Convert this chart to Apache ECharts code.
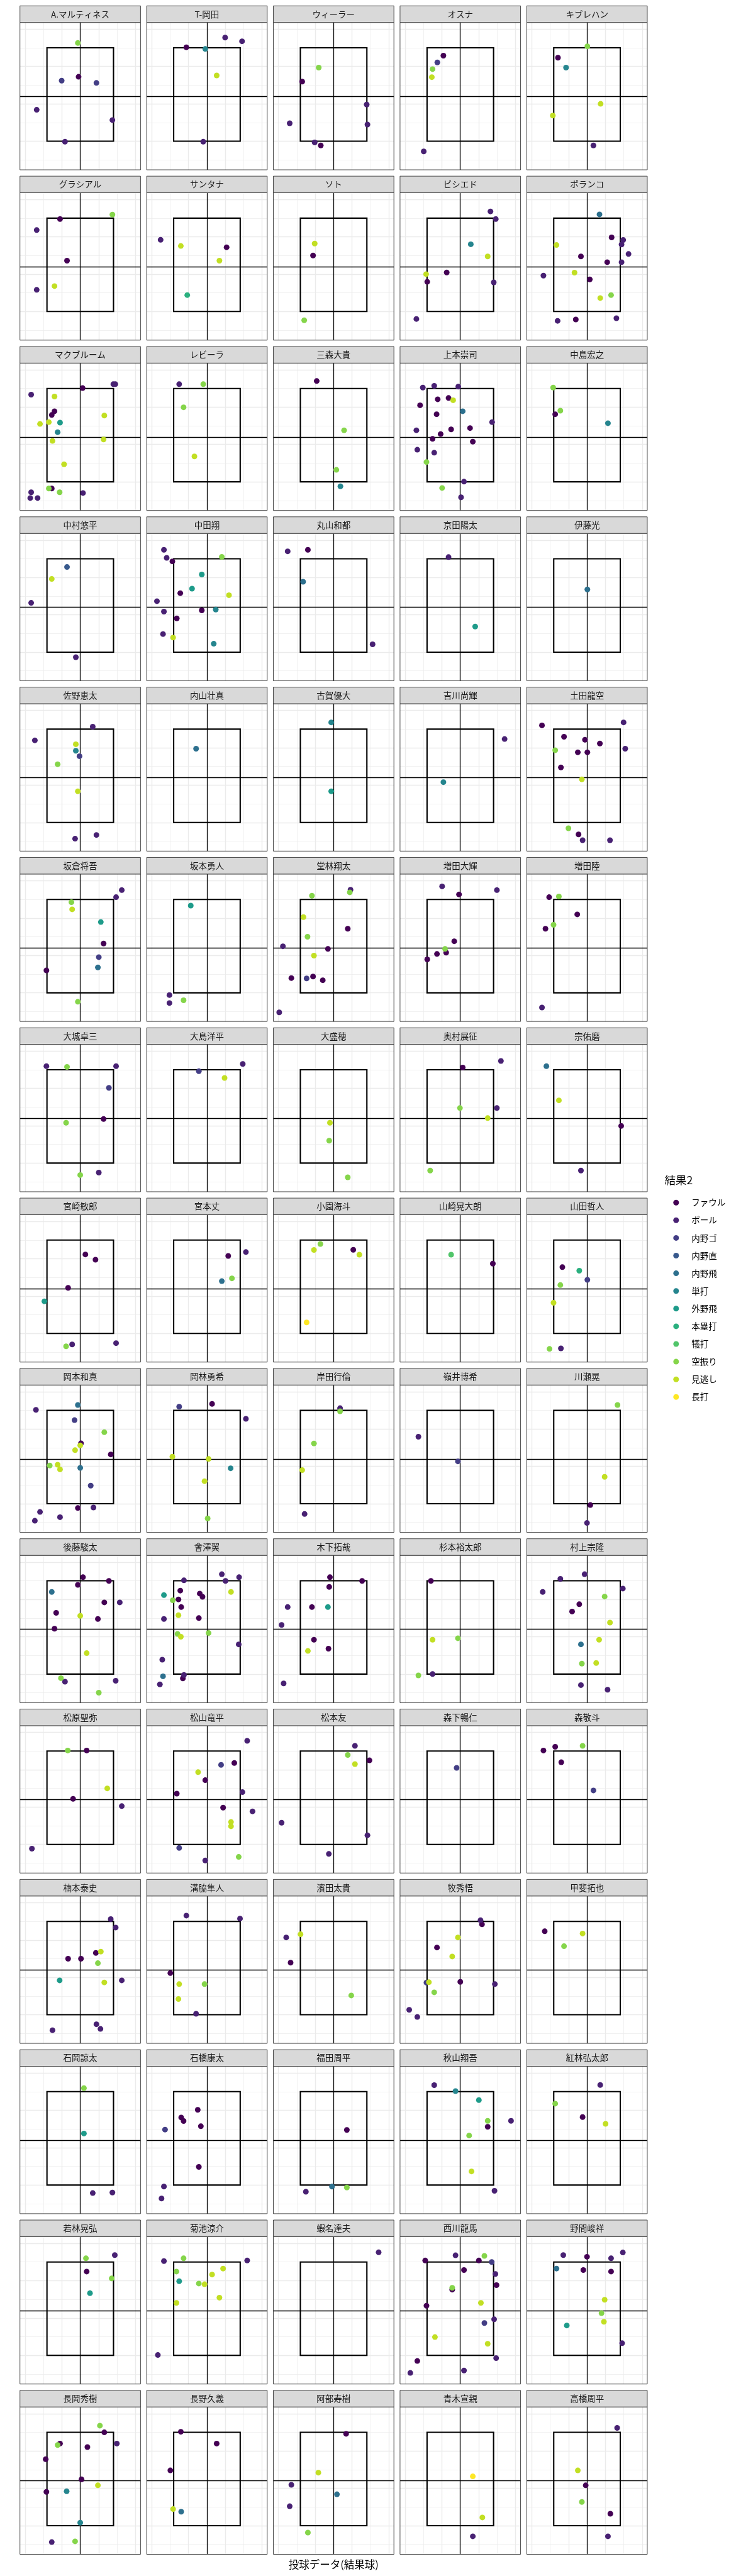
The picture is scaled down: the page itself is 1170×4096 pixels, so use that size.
<!DOCTYPE html>
<html><head><meta charset="utf-8">
<script src="https://cdn.jsdelivr.net/npm/echarts@6/dist/echarts.min.js"></script>
<style>html,body{margin:0;padding:0;background:#fff}#c{width:1170px;height:4096px}</style>
</head><body><div id="c"></div>
<script>
// ---------- data ----------
const players = ["A.マルティネス","T-岡田","ウィーラー","オスナ","キブレハン",
"グラシアル","サンタナ","ソト","ビシエド","ポランコ",
"マクブルーム","レビーラ","三森大貴","上本崇司","中島宏之",
"中村悠平","中田翔","丸山和都","京田陽太","伊藤光",
"佐野恵太","内山壮真","古賀優大","吉川尚輝","土田龍空",
"坂倉将吾","坂本勇人","堂林翔太","増田大輝","増田陸",
"大城卓三","大島洋平","大盛穂","奥村展征","宗佑磨",
"宮崎敏郎","宮本丈","小園海斗","山崎晃大朗","山田哲人",
"岡本和真","岡林勇希","岸田行倫","嶺井博希","川瀬晃",
"後藤駿太","會澤翼","木下拓哉","杉本裕太郎","村上宗隆",
"松原聖弥","松山竜平","松本友","森下暢仁","森敬斗",
"楠本泰史","溝脇隼人","濱田太貴","牧秀悟","甲斐拓也",
"石岡諒太","石橋康太","福田周平","秋山翔吾","紅林弘太郎",
"若林晃弘","菊池涼介","蝦名達夫","西川龍馬","野間峻祥",
"長岡秀樹","長野久義","阿部寿樹","青木宣親","高橋周平"];
const results = ["ファウル","ボール","内野ゴ","内野直","内野飛","単打","外野飛","本塁打","犠打","空振り","見逃し","長打"];
const palette = ["#440154","#482173","#433E85","#38598C","#2D708E","#25858E","#1E9B8A","#2BB07F","#51C56A","#85D54A","#C2DF23","#FDE725"];
// [x, y, result index] per player, in the order of players
const pitches = [
[[-0.13,6.26,9],[-1.01,4.24,2],[-0.09,4.45,0],[0.88,4.12,2],[-2.37,2.68,1],[1.75,2.13,1],[-0.83,0.97,1]],
[[0.99,6.55,1],[1.91,6.35,1],[-1.12,6.03,0],[-0.09,5.94,5],[0.53,4.52,10],[-0.2,0.97,1]],
[[-0.81,4.94,9],[-1.71,4.19,0],[1.80,2.96,1],[-2.39,1.96,1],[1.84,1.89,1],[-1.03,0.93,1],[-0.70,0.77,0]],
[[-0.92,5.58,0],[-1.25,5.22,2],[-1.51,4.86,9],[-1.55,4.43,10],[-1.99,0.45,1]],
[[0.02,6.08,9],[-1.58,5.47,0],[-1.14,4.94,5],[0.74,3.0,10],[-1.86,2.37,10],[0.35,0.77,1]],
[[1.75,6.19,9],[-1.10,5.95,0],[-2.37,5.36,1],[-0.72,3.72,0],[-1.40,2.36,10],[-2.37,2.16,1]],
[[-2.52,4.84,1],[-1.42,4.51,10],[1.07,4.44,0],[0.68,3.72,10],[-1.07,1.88,7]],
[[-1.03,4.64,10],[-1.12,4.0,0],[-1.60,0.53,9]],
[[1.64,6.36,1],[1.93,5.95,1],[0.57,4.6,5],[1.49,3.95,10],[-1.86,3.0,10],[-0.74,3.09,0],[-1.80,2.59,0],[1.82,2.56,1],[-2.39,0.6,1]],
[[0.68,6.2,4],[1.34,4.97,0],[1.97,4.83,1],[1.88,4.59,1],[-1.66,4.56,10],[2.26,4.08,1],[-0.33,3.95,0],[1.10,3.64,0],[1.88,3.64,1],[-2.37,2.92,1],[-0.68,3.08,10],[0.15,2.72,0],[1.31,1.88,9],[0.72,1.72,10],[-1.60,0.5,1],[-0.61,0.57,0],[1.60,0.64,1]],
[[1.80,6.23,1],[1.91,6.23,1],[0.13,6.02,0],[-2.67,5.67,1],[-1.40,5.57,10],[-1.40,4.78,0],[-1.55,4.58,0],[1.31,4.55,10],[-2.19,4.1,10],[-1.71,4.2,10],[-1.10,4.17,6],[-1.23,3.66,5],[-1.51,3.19,10],[1.27,3.27,10],[-0.88,1.94,10],[-1.71,0.64,9],[-1.55,0.64,0],[-1.12,0.44,9],[-2.67,0.44,1],[0.15,0.4,1],[-2.72,0.13,1],[-2.32,0.13,1]],
[[-1.51,6.23,1],[-0.2,6.23,9],[-1.27,4.99,9],[-0.68,2.36,10]],
[[-0.92,6.40,0],[0.57,3.76,9],[0.15,1.64,9],[0.37,0.76,5]],
[[-2.04,6.05,1],[-1.42,6.14,1],[-0.11,6.1,1],[-1.23,5.42,0],[-0.64,5.49,0],[-0.39,5.37,10],[-2.19,5.10,0],[0.13,4.78,4],[-1.29,4.62,0],[1.73,4.2,1],[-2.39,3.76,1],[-0.5,3.81,0],[0.53,3.88,0],[-1.07,3.56,0],[-1.51,3.3,0],[0.68,3.15,0],[-2.34,2.72,1],[-1.42,2.56,1],[-1.84,2.06,9],[0.2,1.01,1],[-0.99,0.67,9],[0.04,0.17,1]],
[[-1.84,6.05,9],[-1.45,4.81,9],[-1.73,4.62,0],[1.14,4.14,5]],
[[-0.72,5.56,3],[-1.55,4.92,10],[-2.67,3.64,1],[-0.24,0.73,1]],
[[-2.34,6.48,1],[-2.19,6.05,1],[-1.88,5.86,0],[0.81,6.1,9],[-0.28,5.16,6],[-0.81,4.4,6],[-1.45,4.16,0],[1.20,4.05,10],[-2.72,3.73,1],[-2.34,3.17,1],[-0.28,3.24,0],[0.48,3.28,5],[-1.64,2.81,0],[-2.39,1.97,1],[-1.84,1.78,10],[0.37,1.45,5]],
[[-2.5,6.40,1],[-1.40,6.48,0],[-1.66,4.77,4],[2.12,1.42,1]],
[[-0.64,6.09,1],[0.81,2.37,6]],
[[0.02,4.36,4]],
[[0.68,6.13,1],[-2.47,5.4,1],[-0.24,5.19,10],[-0.24,4.84,5],[-0.04,4.55,2],[-1.23,4.12,9],[-0.13,2.67,10],[0.88,0.33,1],[-0.28,0.13,1]],
[[-0.59,4.95,4]],
[[-0.13,6.36,5],[-0.13,2.67,6]],
[[2.41,5.47,1],[-0.92,3.16,5]],
[[-2.45,6.2,0],[1.99,6.36,1],[-1.25,5.59,0],[-0.11,5.43,0],[0.70,5.23,0],[2.08,4.95,1],[-1.73,4.87,9],[-0.5,4.76,0],[0.02,4.76,0],[-1.42,3.95,0],[-0.28,3.31,10],[-1.01,0.69,9],[-0.46,0.36,0],[-0.24,0.05,1],[1.25,0.05,1]],
[[2.26,6.5,1],[1.95,6.12,1],[-0.48,5.85,9],[-0.44,5.47,10],[1.12,4.79,6],[1.27,3.64,0],[1.01,2.91,2],[0.96,2.36,4],[-1.84,2.2,0],[-0.13,0.52,9]],
[[-0.88,5.67,6],[-2.04,0.88,1],[-2.04,0.45,1],[-1.27,0.6,9]],
[[-1.18,6.2,9],[0.88,6.38,9],[0.92,6.52,1],[-1.64,5.05,10],[0.77,4.43,0],[-1.42,4.0,9],[-2.76,3.49,1],[-0.31,3.35,0],[-1.07,2.99,10],[-2.30,1.79,0],[-1.47,1.77,2],[-1.12,1.87,0],[-0.59,1.67,0],[-2.96,-0.05,1]],
[[-0.99,6.70,1],[1.99,6.5,1],[-0.07,6.27,0],[-0.33,3.76,0],[-0.83,3.35,9],[-1.27,3.08,0],[-0.77,3.15,0],[-1.80,2.79,0]],
[[-2.06,6.12,0],[-1.53,6.16,9],[-0.53,5.2,0],[-1.82,4.64,9],[-2.26,4.43,0],[-2.45,0.21,1]],
[[-1.84,6.19,1],[-0.72,6.15,9],[1.95,6.19,1],[1.56,5.03,2],[1.27,3.36,0],[-0.77,3.16,9],[1.01,0.49,1],[0,0.36,9]],
[[1.95,6.31,1],[-0.44,5.92,2],[0.96,5.56,10]],
[[-0.2,3.16,10],[-0.24,2.2,9],[0.77,0.24,9]],
[[2.21,6.47,1],[0.13,6.12,0],[-0.02,3.95,9],[1.99,3.95,1],[1.49,3.41,10],[-1.64,0.6,9]],
[[-2.21,6.19,4],[-1.53,4.36,10],[1.86,2.99,0],[-0.33,0.6,1]],
[[0.28,5.23,0],[0.83,4.95,0],[-0.66,3.44,0],[-1.95,2.72,6],[-0.77,0.31,9],[-0.44,0.41,1],[1.95,0.48,1]],
[[2.12,5.36,1],[1.16,5.15,0],[1.36,3.95,9],[0.81,3.8,4]],
[[-0.72,5.79,9],[-1.07,5.47,10],[1.07,5.48,0],[1.40,5.22,10],[-1.47,1.59,11]],
[[-0.5,5.22,8],[1.77,4.74,0]],
[[-1.34,4.55,0],[-0.42,4.36,7],[0.02,3.87,2],[-1.45,3.59,9],[-1.82,2.64,10],[-2.04,0.17,9],[-1.42,0.2,1]],
[[-2.41,6.03,1],[-0.13,6.29,4],[-0.31,5.48,2],[1.31,4.83,9],[0.04,4.24,0],[0,4.13,10],[-0.28,3.87,10],[1.66,3.64,0],[-1.66,3.05,9],[-1.23,3.09,10],[-1.10,2.84,10],[0,2.92,4],[0.57,1.97,2],[-0.13,0.77,0],[0.72,0.8,1],[-2.19,0.56,1],[-1.10,0.28,1],[-2.47,0.09,1]],
[[-1.51,6.2,2],[0.28,6.35,0],[2.12,5.55,1],[-1.88,3.52,10],[0.09,3.4,10],[1.29,2.9,5],[-0.13,2.21,10],[0.04,0.21,9]],
[[0.35,6.12,1],[0.35,5.95,9],[-1.07,4.23,9],[-1.71,2.8,10],[-1.58,0.45,1]],
[[-2.28,4.59,1],[-0.13,3.27,2]],
[[1.66,6.29,9],[0.96,2.44,10],[0.18,0.93,0],[0,-0.03,1]],
[[0.15,6.19,0],[1.56,5.99,0],[-0.13,5.78,0],[-1.55,5.4,4],[1.31,4.84,0],[2.15,4.84,1],[-1.31,4.28,0],[0,4.12,10],[0.96,3.95,0],[-1.40,3.43,0],[0.35,2.12,10],[-1.05,0.78,9],[-0.83,0.59,1],[1.93,0.64,1],[1.01,0.0,9]],
[[0.81,6.35,1],[1.75,6.19,1],[-1.25,6.02,1],[1.01,5.99,1],[-1.45,5.47,0],[1.31,5.4,10],[-2.34,5.23,6],[-0.39,5.31,0],[-0.24,5.14,0],[-1.55,5.0,0],[-1.86,4.95,9],[-1.40,4.59,0],[-0.44,4.0,0],[-1.55,4.15,10],[-2.34,3.95,1],[0.09,3.2,9],[-1.60,3.15,9],[-1.42,3.0,10],[1.73,2.59,1],[-2.43,1.77,1],[-2.39,0.88,4],[-1.25,0.95,1],[-1.31,0.77,0],[-2.56,0.45,1]],
[[-0.2,6.19,0],[1.55,5.99,0],[-0.24,5.67,0],[-2.5,4.59,1],[-1.18,4.59,0],[-0.31,4.59,6],[-2.83,3.63,1],[-1.07,2.84,0],[-0.28,2.36,0],[-1.40,2.24,10],[-2.72,0.5,1]],
[[-1.60,5.99,0],[-1.51,2.84,10],[-0.13,2.92,9],[-2.28,0.93,9],[-1.51,1.0,1]],
[[-0.13,6.35,1],[-1.45,6.1,1],[-2.41,5.4,1],[1.95,5.58,1],[0.96,5.15,9],[-0.42,4.74,0],[-0.81,4.35,0],[1.25,3.76,10],[0.66,2.84,10],[-0.33,2.59,4],[-0.28,1.56,9],[0.5,1.59,10],[-0.33,0.41,1],[1.12,0.16,1]],
[[-0.68,6.03,9],[0.35,6.03,0],[1.47,4.0,10],[-0.39,3.44,0],[2.26,3.05,1],[-2.63,0.77,1]],
[[2.19,6.55,1],[1.49,5.36,0],[0.77,5.26,2],[-0.48,4.87,10],[-0.09,4.44,0],[-1.64,3.72,0],[1.93,3.8,1],[0.88,2.97,0],[2.48,2.77,1],[1.31,2.2,10],[1.31,1.97,10],[-1.51,0.81,2],[1.73,0.33,9],[-0.09,0.14,1]],
[[1.16,6.28,1],[0.77,5.79,9],[1.95,5.5,0],[1.16,5.3,10],[-2.83,2.16,1],[1.84,1.49,1],[-0.26,0.49,1]],
[[-0.2,5.1,2]],
[[-2.37,6.03,0],[-1.73,6.23,0],[-0.24,6.28,9],[-1.40,5.4,0],[0.35,3.89,2]],
[[1.66,6.12,1],[1.93,5.67,1],[0.85,4.31,0],[1.12,4.38,10],[-0.66,4.0,0],[0.04,4.0,0],[0.96,3.76,9],[-1.12,2.84,6],[1.31,2.73,10],[2.26,2.84,1],[0.88,0.49,1],[1.10,0.24,1],[-1.51,0.17,1]],
[[-1.12,6.31,1],[1.80,6.15,1],[-1.99,3.23,0],[-1.51,2.64,10],[-0.13,2.64,9],[-1.55,1.84,10],[-0.59,1.05,1]],
[[-2.58,5.14,1],[-1.80,5.31,10],[-2.34,3.79,0],[0.96,2.03,9]],
[[1.10,6.06,1],[1.18,5.84,0],[-0.13,5.14,10],[-1.27,4.6,0],[-0.44,4.12,10],[-1.84,2.72,2],[-1.71,2.74,10],[0,2.76,0],[1.88,2.64,1],[-1.42,2.2,9],[-2.78,1.26,1],[-2.34,0.88,1]],
[[-2.30,5.47,0],[-0.24,5.35,10],[-1.25,4.67,9]],
[[0.2,6.19,9],[0.2,3.76,6],[0.68,0.57,1],[1.75,0.6,1]],
[[-0.5,5.03,0],[-1.40,4.62,0],[-1.27,4.43,0],[-0.33,4.15,0],[-2.28,3.97,2],[-0.44,1.97,0],[-2.34,0.92,1],[-2.47,0.28,1]],
[[0.72,3.95,0],[-0.09,0.92,4],[0.72,0.87,9],[-1.51,0.64,1]],
[[-1.42,6.35,1],[-0.26,6.03,5],[1.01,5.55,6],[1.49,4.44,9],[2.76,4.44,1],[1.49,4.12,0],[0.48,3.65,9],[0.61,1.73,10],[1.86,0.69,1]],
[[0.72,6.36,1],[-1.73,5.36,9],[-0.24,4.64,0],[1.01,4.28,10]],
[[0.31,6.2,9],[1.88,6.37,1],[0.35,5.49,0],[1.71,5.12,9],[0.53,4.33,6]],
[[-2.34,6.05,1],[-1.27,6.2,9],[2.19,6.08,1],[-1.66,5.49,9],[0.88,5.65,10],[0.28,5.33,10],[-1.51,4.97,6],[-0.44,4.85,9],[-0.13,4.81,10],[0.68,4.09,10],[-1.66,3.81,10],[-2.67,1.02,1]],
[[2.45,6.52,1]],
[[-0.26,6.36,1],[-1.91,6.08,0],[1.31,6.33,9],[1.01,6.08,0],[1.71,6.0,2],[0.2,5.57,0],[1.91,5.36,1],[1.97,4.76,0],[-0.44,4.52,0],[-0.44,4.62,9],[1.12,3.81,10],[-1.84,3.66,0],[1.84,2.93,1],[1.31,2.73,2],[-1.38,1.98,10],[1.49,1.62,10],[1.95,0.85,1],[-2.34,0.70,0],[0.2,0.19,1],[-2.72,0.06,1]],
[[-1.29,6.37,1],[0,6.28,0],[1.31,6.2,1],[1.95,6.51,1],[-1.66,5.65,4],[-0.2,5.57,0],[1.31,5.49,0],[0.96,3.98,10],[0.79,3.26,9],[0.92,2.8,10],[-1.10,2.6,6],[1.91,1.65,1]],
[[1.07,6.36,9],[1.31,6.0,0],[-1.23,5.32,9],[-1.10,5.40,0],[0.39,5.21,0],[1.99,5.40,1],[-1.88,4.56,0],[0.07,3.48,0],[0.96,3.16,10],[-1.84,2.81,0],[-0.74,2.84,5],[0,1.16,5],[-1.55,0.12,1],[-0.28,0.16,9]],
[[-1.42,6.03,0],[0.53,5.40,0],[-1.99,3.96,0],[-1.84,1.89,10],[-1.40,1.75,4]],
[[0.68,5.92,0],[-0.83,3.84,10],[-2.30,3.19,1],[0.18,2.68,4],[-2.39,2.04,1],[-1.40,0.63,9]],
[[0.68,3.64,11],[1.20,1.44,10],[0.68,0.43,1]],
[[1.64,6.24,1],[-0.5,3.96,10],[-0.07,3.16,0],[-0.28,2.27,9],[1.27,1.64,0],[1.14,0.43,1]]
];
const xLimits = [-3.28, 3.28];
const yLimits = [-0.535, 7.36];
const xMajor = [-3, -1, 1, 3], xMinor = [-2, 0, 2];
const yMajor = [1, 3, 5, 7], yMinor = [0, 2, 4, 6];
const zoneX = [-1.81, 1.81], zoneY = [1, 6];
const crossX = 0, crossY = 3.4;
const legendTitle = "結果2";
const axisTitle = "投球データ(結果球)";

// ---------- layout ----------
const S = 0.609;
const FONT = "'Noto Sans CJK JP','Noto Sans',sans-serif";
const colLeft0 = 52.1 * S, colPitch = 330.7 * S, panelW = 314.7 * S;
const rowTop0 = 15.3 * S, rowPitch = 444.7 * S, stripH = 43.3 * S, panelH = 384.8 * S;

const grids = [], xAxes = [], yAxes = [], series = [], graphics = [];
players.forEach((name, i) => {
  const col = i % 5, row = Math.floor(i / 5);
  const left = colLeft0 + col * colPitch;
  const stripTop = rowTop0 + row * rowPitch;
  const top = stripTop + stripH;
  grids.push({ left: left, top: top, width: panelW, height: panelH, show: true,
    backgroundColor: '#FFFFFF', borderWidth: 0, containLabel: false });
  xAxes.push({ gridIndex: i, type: 'value', min: xLimits[0], max: xLimits[1], show: false });
  yAxes.push({ gridIndex: i, type: 'value', min: yLimits[0], max: yLimits[1], show: false });

  const gl = [];
  xMinor.forEach(v => gl.push({ coords: [[v, yLimits[0]], [v, yLimits[1]]], lineStyle: { width: 0.7 } }));
  yMinor.forEach(v => gl.push({ coords: [[xLimits[0], v], [xLimits[1], v]], lineStyle: { width: 0.7 } }));
  xMajor.forEach(v => gl.push({ coords: [[v, yLimits[0]], [v, yLimits[1]]], lineStyle: { width: 1.4 } }));
  yMajor.forEach(v => gl.push({ coords: [[xLimits[0], v], [xLimits[1], v]], lineStyle: { width: 1.4 } }));
  series.push({ type: 'lines', coordinateSystem: 'cartesian2d', xAxisIndex: i, yAxisIndex: i,
    silent: true, z: 1, animation: false,
    lineStyle: { color: '#EBEBEB', width: 1.4, opacity: 1, curveness: 0 }, data: gl });

  series.push({ type: 'lines', coordinateSystem: 'cartesian2d', xAxisIndex: i, yAxisIndex: i,
    silent: true, z: 2, animation: false,
    lineStyle: { color: '#000000', width: 1.3, opacity: 1, curveness: 0 },
    data: [ { coords: [[crossX, yLimits[0]], [crossX, yLimits[1]]] },
            { coords: [[xLimits[0], crossY], [xLimits[1], crossY]] } ] });

  series.push({ type: 'line', xAxisIndex: i, yAxisIndex: i, silent: true, z: 2, animation: false,
    symbol: 'none', clip: false,
    lineStyle: { color: '#000000', width: 2.1, join: 'miter', cap: 'square' },
    data: [[zoneX[0], zoneY[0]], [zoneX[1], zoneY[0]], [zoneX[1], zoneY[1]], [zoneX[0], zoneY[1]], [zoneX[0], zoneY[0]]] });

  results.forEach((r, c) => {
    const pts = pitches[i].filter(p => p[2] === c).map(p => [p[0], p[1]]);
    if (!pts.length) return;
    series.push({ type: 'scatter', name: r, xAxisIndex: i, yAxisIndex: i, z: 3, animation: false,
      symbol: 'circle', symbolSize: 9, data: pts,
      itemStyle: { color: palette[c], opacity: 1 } });
  });

  graphics.push({ type: 'rect', z: 100, silent: true,
    shape: { x: left, y: top, width: panelW, height: panelH },
    style: { fill: 'none', stroke: '#333333', lineWidth: 0.9 } });
  graphics.push({ type: 'rect', z: 100, silent: true,
    shape: { x: left, y: stripTop, width: panelW, height: stripH },
    style: { fill: '#D9D9D9', stroke: '#333333', lineWidth: 0.9 } });
  graphics.push({ type: 'text', z: 101, silent: true, x: left + panelW / 2, y: stripTop + stripH / 2,
    style: { text: name, fill: '#1A1A1A', fontSize: 13.5, fontFamily: FONT,
      align: 'center', verticalAlign: 'middle', textAlign: 'center', textVerticalAlign: 'middle' } });
});

graphics.push({ type: 'text', z: 101, silent: true, x: 1056.6, y: 1876.7,
  style: { text: legendTitle, fill: '#000000', fontSize: 17.5, fontFamily: FONT,
    align: 'left', verticalAlign: 'middle', textAlign: 'left', textVerticalAlign: 'middle' } });
graphics.push({ type: 'text', z: 101, silent: true, x: colLeft0 + (4 * colPitch + panelW) / 2, y: 4078,
  style: { text: axisTitle, fill: '#000000', fontSize: 16.5, fontFamily: FONT,
    align: 'center', verticalAlign: 'middle', textAlign: 'center', textVerticalAlign: 'middle' } });

const chart = echarts.init(document.getElementById('c'), null, { renderer: 'canvas' });
chart.setOption({
  animation: false,
  backgroundColor: '#FFFFFF',
  textStyle: { fontFamily: FONT },
  grid: grids, xAxis: xAxes, yAxis: yAxes,
  legend: { data: results, orient: 'vertical', left: 1065.3, top: 1900.2,
    itemWidth: 9, itemHeight: 9, itemGap: 14.1, icon: 'circle', selectedMode: false,
    textStyle: { fontSize: 13.5, lineHeight: 14, color: '#000000', fontFamily: FONT, padding: [0, 0, 0, 15] } },
  graphic: { elements: graphics },
  series: series
});
</script></body></html>
